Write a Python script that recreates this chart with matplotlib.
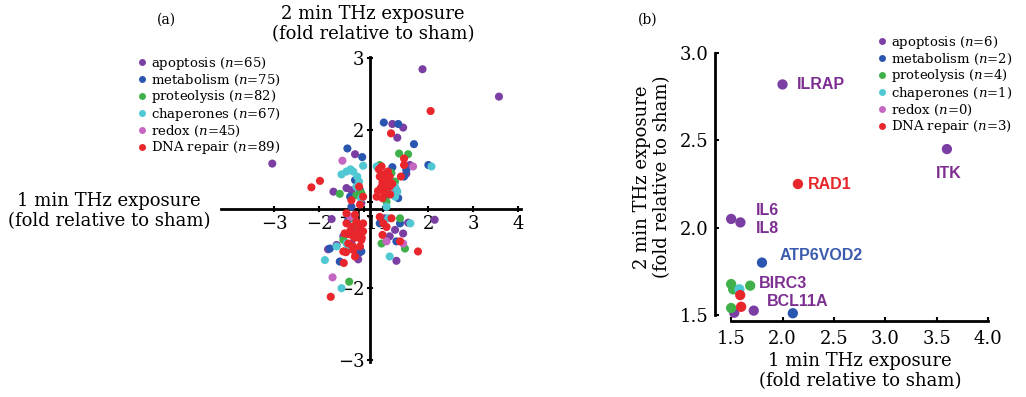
import numpy as np
import matplotlib
matplotlib.use("Agg")
import matplotlib.pyplot as plt
from matplotlib.lines import Line2D

plt.rcParams['font.family'] = 'DejaVu Serif'
plt.rcParams['mathtext.fontset'] = 'dejavuserif'

categorias = ['apoptosis', 'metabolism', 'proteolysis', 'chaperones', 'redox', 'DNA repair']
colores = ['#7b3fa3', '#2a56b0', '#3fb04a', '#4fc8d3', '#c466c2', '#e8262b']
n_a = [65, 75, 82, 67, 45, 89]
n_b = [6, 2, 4, 1, 0, 3]

# (a) fold change: 1 min (x) vs 2 min (y)
apop_x = [1.87, 3.57, -3.04, 1.20, 1.44, 1.31, -1.20, -1.68, 1.59, 1.51, -1.39, 2.14, -1.72, -1.80,
          1.29, -1.13, -1.11, 1.44, 1.26, 1.55, -1.28, -1.46, 1.03, 1.07, -1.06, -1.61, 1.14, -1.28,
          1.29, -1.17]
apop_y = [2.84, 2.46, 1.53, 2.08, 2.03, 1.89, 1.66, 1.14, 1.51, 1.39, 1.19, -1.05, -1.04, -1.46,
          -1.62, -1.60, -1.51, -1.24, -1.19, -1.09, -1.38, -1.28, -1.03, 1.37, 0.98, -1.40, -1.28, 1.16,
          1.16, -1.19]
meta_x = [1.01, 1.33, 1.68, -1.37, -1.04, 2.00, 1.20, 1.46, 1.33, 1.03, -1.20, -1.31, -1.76, -1.54,
          -1.06, -1.35, 0.92, 1.37, 1.29, 1.51, -1.09, 1.11, -1.28]
meta_y = [2.10, 2.08, 1.80, 1.74, 1.62, 1.51, 1.48, 1.35, 1.05, 1.05, 1.30, 1.07, -1.45, -1.63,
          -1.49, -1.05, -1.10, -1.10, -1.35, 1.44, 1.16, 1.12, 0.93]
prot_x = [1.35, 1.55, 1.18, 1.26, 1.07, -1.54, -1.17, -1.06, -1.33, -1.46, 0.96, 1.37, 1.48, 0.92,
          -1.24, 1.07, -1.17]
prot_y = [1.67, 1.66, 1.40, 1.28, 1.00, 1.11, 1.09, 1.12, -1.91, -1.33, -1.38, -1.03, -1.45, 1.51,
          -1.03, 1.14, -1.12]
chap_x = [0.85, 2.07, 0.96, 1.31, 1.26, -1.02, -1.39, -1.24, -1.11, -1.17, -1.06, -1.87, -1.50, -1.61,
          -1.39, 1.14, 1.60, 1.11, -1.39, 1.07, 1.26, -1.30, -1.50, -1.15]
chap_y = [1.49, 1.49, 1.33, 1.14, 1.21, 1.50, 1.42, 1.42, 1.28, 1.21, 1.05, -1.61, -2.00, -1.42,
          -1.38, -1.56, -1.10, -1.03, -1.47, 0.93, 1.07, 1.45, 1.38, 1.35]
redox_x = [-1.48, -1.70, 1.07, 1.66, -1.17, 1.44, -1.31]
redox_y = [1.57, -1.85, -1.35, 1.49, -1.28, -1.38, -1.01]
dna_x = [2.05, 1.17, 1.46, 1.46, 1.39, 0.96, 0.98, 1.09, 0.92, 1.03, 1.14, 0.85, 0.98, -1.98, -2.17,
         -1.11, -1.02, -1.28, -1.09, -1.45, -1.74, -1.46, -1.24, -1.06, -1.39, -1.28, -1.17, -1.31,
         -1.13, -1.02, -1.43, -1.24, -1.09, 0.92, 1.00, 0.98, 1.37, 1.77, 1.18, 1.03, 1.14, -1.35,
         -1.20, -1.02, 0.92, -1.39, -1.20, 1.07, 0.90, 1.00, 1.10, 0.95, 1.15, 0.88, 1.05, 1.20,
         -1.20, -1.35, -1.10, -1.25, -1.40, -1.05]
dna_y = [2.26, 1.95, 1.60, 1.51, 1.35, 1.49, 1.27, 1.29, 1.16, 1.12, 1.21, 1.07, 1.05, 1.29, 1.20,
         1.21, 1.07, 1.02, 0.96, -1.65, -2.12, -1.49, -1.47, -1.33, -1.10, -1.15, -1.08, -1.21,
         -1.21, -1.10, -1.24, -1.28, -1.42, -1.01, -1.10, -1.26, -1.35, -1.49, -1.03, 1.19, 1.35,
         -1.38, -1.56, -1.21, 1.35, -0.96, -0.98, -1.15, 1.45, 1.38, 1.42, 1.20, 1.10, 1.15, 1.30,
         1.25, -1.30, -1.25, -1.16, -1.42, -1.50, -1.30]
datos_a = [(apop_x, apop_y), (meta_x, meta_y), (prot_x, prot_y),
           (chap_x, chap_y), (redox_x, redox_y), (dna_x, dna_y)]
ticks_x_a = [-3, -2, -1, 1, 2, 3, 4]
ticks_y_a = [-3, -2, -1, 1, 2, 3]

# (b) genes con fold > 1.5 en ambos tiempos
b_apop_x = [2.00, 3.60, 1.50, 1.59, 1.53, 1.72]
b_apop_y = [2.82, 2.45, 2.05, 2.03, 1.513, 1.525]
b_meta_x = [1.80, 2.10]
b_meta_y = [1.80, 1.51]
b_prot_x = [1.50, 1.685, 1.52, 1.50]
b_prot_y = [1.677, 1.668, 1.647, 1.54]
b_chap_x = [1.58]
b_chap_y = [1.647]
b_redox_x = []
b_redox_y = []
b_dna_x = [2.15, 1.588, 1.597]
b_dna_y = [2.25, 1.614, 1.547]
datos_b = [(b_apop_x, b_apop_y), (b_meta_x, b_meta_y), (b_prot_x, b_prot_y),
           (b_chap_x, b_chap_y), (b_redox_x, b_redox_y), (b_dna_x, b_dna_y)]

genes = ['ILRAP', 'ITK', 'RAD1', 'IL6', 'IL8', 'ATP6VOD2', 'BIRC3', 'BCL11A']
genes_x = [2.14, 3.62, 2.25, 1.74, 1.74, 1.97, 1.77, 1.85]
genes_y = [2.82, 2.31, 2.25, 2.10, 1.995, 1.84, 1.68, 1.576]
genes_color = ['#7d2e91', '#7d2e91', '#e5262a', '#7d2e91', '#7d2e91', '#3a5bae', '#7d2e91', '#7d2e91']
genes_ha = ['left', 'center', 'left', 'left', 'left', 'left', 'left', 'left']


def comprimir(v, g_neg, g_pos):
    # el eje salta de -1 a 1 (no hay fold entre -1 y 1)
    v = np.asarray(v, dtype=float)
    return np.where(v >= 0, v - 1 + g_pos, v + 1 - g_neg)


def cx(v):
    return comprimir(v, 0.13, 0.30)


def cy(v):
    return comprimir(v, 0.10, 0.10)


def leyenda(ns, x0, y0):
    hs = [Line2D([], [], ls='none', marker='o', markersize=5, markeredgewidth=0, color=c,
                 label=f'{cat} ($n$={n})') for c, cat, n in zip(colores, categorias, ns)]
    fig.legend(handles=hs, loc='upper left', bbox_to_anchor=(x0 / W, 1 - y0 / H),
               frameon=False, fontsize=9.5, handlelength=0.7, handletextpad=0.35,
               labelspacing=0.05, borderpad=0, borderaxespad=0)


fig = plt.figure(figsize=(10.26, 3.97), dpi=100)
W, H = 1026, 397

# ---------------- panel (a) ----------------
ax = fig.add_axes([221 / W, 1 - 362 / H, 300 / W, 305 / H])
for (xs, ys), c in zip(datos_a, colores):
    ax.scatter(cx(xs), cy(ys), s=34, color=c, edgecolors='none', zorder=3, clip_on=False)

ax.set_xlim(-3.31, 3.36)
ax.set_ylim(-2.125, 2.11)
for lado in ['top', 'right']:
    ax.spines[lado].set_visible(False)
ax.spines['left'].set_position(('data', 0))
ax.spines['bottom'].set_position(('data', 0))
for lado in ['left', 'bottom']:
    ax.spines[lado].set_linewidth(2)
    ax.spines[lado].set_zorder(2)
ax.set_xticks(cx(ticks_x_a))
ax.set_xticklabels([str(t).replace('-', '\u2212') for t in ticks_x_a])
ax.set_yticks(cy(ticks_y_a))
ax.set_yticklabels([str(t).replace('-', '\u2212') for t in ticks_y_a])
ax.tick_params(direction='inout', length=4, width=1.5, labelsize=13, pad=2)
ax.patch.set_visible(False)

leyenda(n_a, 137, 55)

fig.text(166 / W, 1 - 20 / H, '(a)', ha='center', va='center', fontsize=10)
fig.text(373 / W, 1 - 24 / H, '2 min THz exposure\n(fold relative to sham)',
         ha='center', va='center', fontsize=13, linespacing=1.1)
fig.text(109 / W, 1 - 211 / H, '1 min THz exposure\n(fold relative to sham)',
         ha='center', va='center', fontsize=13, linespacing=1.1)

# ---------------- panel (b) ----------------
ax2 = fig.add_axes([725 / W, 1 - 318.5 / H, 263 / W, 265.5 / H])
for (xs, ys), c in zip(datos_b, colores):
    if len(xs):
        ax2.scatter(xs, ys, s=55, color=c, edgecolors='none', zorder=3, clip_on=False)

for txt, x, y, c, ha in zip(genes, genes_x, genes_y, genes_color, genes_ha):
    ax2.text(x, y, txt, color=c, ha=ha, va='center', fontsize=11.5, fontweight='bold',
             family='Liberation Sans')

ax2.set_xlim(1.44, 4.0)
ax2.set_ylim(1.48, 3.0)
for lado in ['top', 'right']:
    ax2.spines[lado].set_visible(False)
ax2.spines['left'].set_position(('outward', 7))
ax2.spines['left'].set_bounds(1.5, 3.0)
ax2.spines['bottom'].set_position(('outward', 2))
ax2.spines['bottom'].set_bounds(1.5, 4.0)
for lado in ['left', 'bottom']:
    ax2.spines[lado].set_linewidth(2)
ax2.set_xticks([1.5, 2.0, 2.5, 3.0, 3.5, 4.0])
ax2.set_yticks([1.5, 2.0, 2.5, 3.0])
ax2.xaxis.set_major_formatter('{x:.1f}')
ax2.yaxis.set_major_formatter('{x:.1f}')
ax2.tick_params(direction='in', length=3, width=1.5, labelsize=13)
ax2.tick_params(axis='x', pad=6)
ax2.tick_params(axis='y', pad=5)
ax2.patch.set_visible(False)

leyenda(n_b, 877, 34)

fig.text(648 / W, 1 - 20 / H, '(b)', ha='center', va='center', fontsize=10)
fig.text(652 / W, 1 - 177 / H, '2 min THz exposure\n(fold relative to sham)', rotation=90,
         ha='center', va='center', fontsize=13, linespacing=1.1)
fig.text(860 / W, 1 - 371 / H, '1 min THz exposure\n(fold relative to sham)',
         ha='center', va='center', fontsize=13, linespacing=1.1)

fig.savefig('out.png', dpi=100)
